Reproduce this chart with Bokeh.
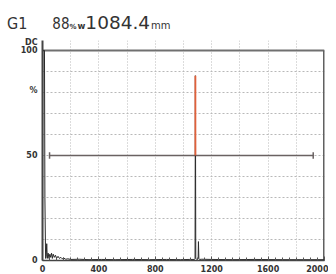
from bokeh.plotting import figure
from bokeh.models import Range1d, SingleIntervalTicker, FixedTicker, Div
from bokeh.layouts import column
from bokeh.embed import file_html
from bokeh.resources import INLINE

trace_mm = [0, 3, 14, 17, 22, 26, 30, 34, 40, 46,
            52, 58, 64, 70, 76, 84, 92, 100, 110, 120,
            130, 140, 150, 165, 180, 200, 260, 330, 420, 520,
            640, 760, 880, 980, 1040, 1078, 1082, 1084.4, 1087, 1092,
            1100, 1104, 1106, 1109, 1114, 1130, 1200, 1350, 1500, 1700,
            1900, 2000]
trace_pct = [0, 100, 100, 30, 1, 2, 8, 1, 3.5, 1,
             3, 1.5, 3.5, 1, 3, 1.5, 2.5, 1, 2, 1,
             1.5, 0.8, 1.2, 0.6, 0.8, 0.5, 0.6, 0.4, 0.5, 0.4,
             0.5, 0.4, 0.5, 0.4, 0.5, 0.5, 1, 88, 1, 0.6,
             0.5, 1, 9, 1, 0.5, 0.6, 0.5, 0.4, 0.5, 0.4,
             0.4, 0.4]
y_ticks = [0, 50, 81, 100, 104]
y_tick_text = {81: "%", 104: "DC"}
gate_start = [50]
gate_end = [1920]
gate_level = [50]
peak_mm = [1084.4]
peak_pct = [88]
title_gate = "G1"
title_amp = "88"
title_pos = "1084.4"
X_MAX = 2000
Y_MAX = 100
Y_TOP = 104.76

W = 328
DIV_H = 36
H = 274 - DIV_H

cond = "font-family:'DejaVu Sans Condensed','DejaVu Sans';font-stretch:condensed;"
title_html = (
    '<div style="font-family:\'DejaVu Sans\';color:#333;white-space:pre;'
    'line-height:18px;padding-top:14px;padding-left:7px;">'
    f'<span style="{cond}font-size:16px">{title_gate}</span>'
    f'<span style="{cond}font-size:15px;margin-left:25px">{title_amp}</span>'
    '<span style="font-size:7px;font-weight:bold">%</span>'
    '<span style="font-size:8.5px;font-weight:bold;margin-left:1px">w</span>'
    f'<span style="font-size:18.5px">{title_pos}</span>'
    '<span style="font-size:10px;margin-left:1px">mm</span>'
    '</div>'
)
div = Div(text=title_html, width=W, height=DIV_H, margin=0)

p = figure(width=W, height=H, x_range=Range1d(0, X_MAX), y_range=Range1d(0, Y_TOP),
           output_backend="svg", toolbar_location=None, margin=0,
           min_border_left=42, min_border_right=4, min_border_top=40 - DIV_H, min_border_bottom=14)
p.outline_line_color = None
p.background_fill_color = "white"
p.border_fill_color = "white"

# grid
p.xgrid.ticker = SingleIntervalTicker(interval=200)
p.xgrid.grid_line_color = "#b8b8b8"
p.xgrid.grid_line_dash = "1 2"
p.ygrid.ticker = SingleIntervalTicker(interval=10)
p.ygrid.grid_line_color = "#b8b8b8"
p.ygrid.grid_line_dash = "2 2"

# axes
p.xaxis.ticker = SingleIntervalTicker(interval=400, num_minor_ticks=8)
p.xaxis.axis_line_color = "#444444"
p.xaxis.axis_line_width = 1.5
p.xaxis.major_tick_in = 4
p.xaxis.major_tick_out = 0
p.xaxis.minor_tick_in = 3
p.xaxis.minor_tick_out = 0
p.xaxis.major_tick_line_color = "#555555"
p.xaxis.minor_tick_line_color = "#555555"
p.xaxis.major_label_standoff = 4

p.yaxis.ticker = FixedTicker(ticks=y_ticks)
p.yaxis.major_label_overrides = y_tick_text
p.yaxis.axis_line_color = "#444444"
p.yaxis.axis_line_width = 2
p.yaxis.major_tick_in = 0
p.yaxis.major_tick_out = 0
p.yaxis.minor_tick_line_color = None
p.yaxis.major_label_standoff = 5

for ax in (p.xaxis, p.yaxis):
    ax.major_label_text_font = "DejaVu Sans"
    ax.major_label_text_font_style = "bold"
    ax.major_label_text_font_size = "8px"
    ax.major_label_text_color = "#333333"

# frame borders (top and right)
p.segment(x0=[0], y0=[Y_MAX], x1=[X_MAX], y1=[Y_MAX], line_color="#707070", line_width=2)
p.segment(x0=[X_MAX], y0=[0], x1=[X_MAX], y1=[Y_MAX], line_color="#606060", line_width=3)

# gate line with end ticks
p.segment(x0=gate_start, y0=gate_level, x1=gate_end, y1=gate_level, line_color="#6a6262", line_width=1.5)
p.segment(x0=gate_start, y0=[g - 1.5 for g in gate_level], x1=gate_start, y1=[g + 1.5 for g in gate_level],
          line_color="#6a6262", line_width=1.5)
p.segment(x0=gate_end, y0=[g - 1.5 for g in gate_level], x1=gate_end, y1=[g + 1.5 for g in gate_level],
          line_color="#6a6262", line_width=1.5)

# trace
p.line(trace_mm, trace_pct, line_color="#2a2a2a", line_width=1)

# red peak cursor above the gate
p.segment(x0=peak_mm, y0=gate_level, x1=peak_mm, y1=peak_pct, line_color="#e0603a", line_width=1.8)

layout = column(div, p, spacing=0, margin=0)
open("out.html", "w").write(file_html(layout, INLINE))
